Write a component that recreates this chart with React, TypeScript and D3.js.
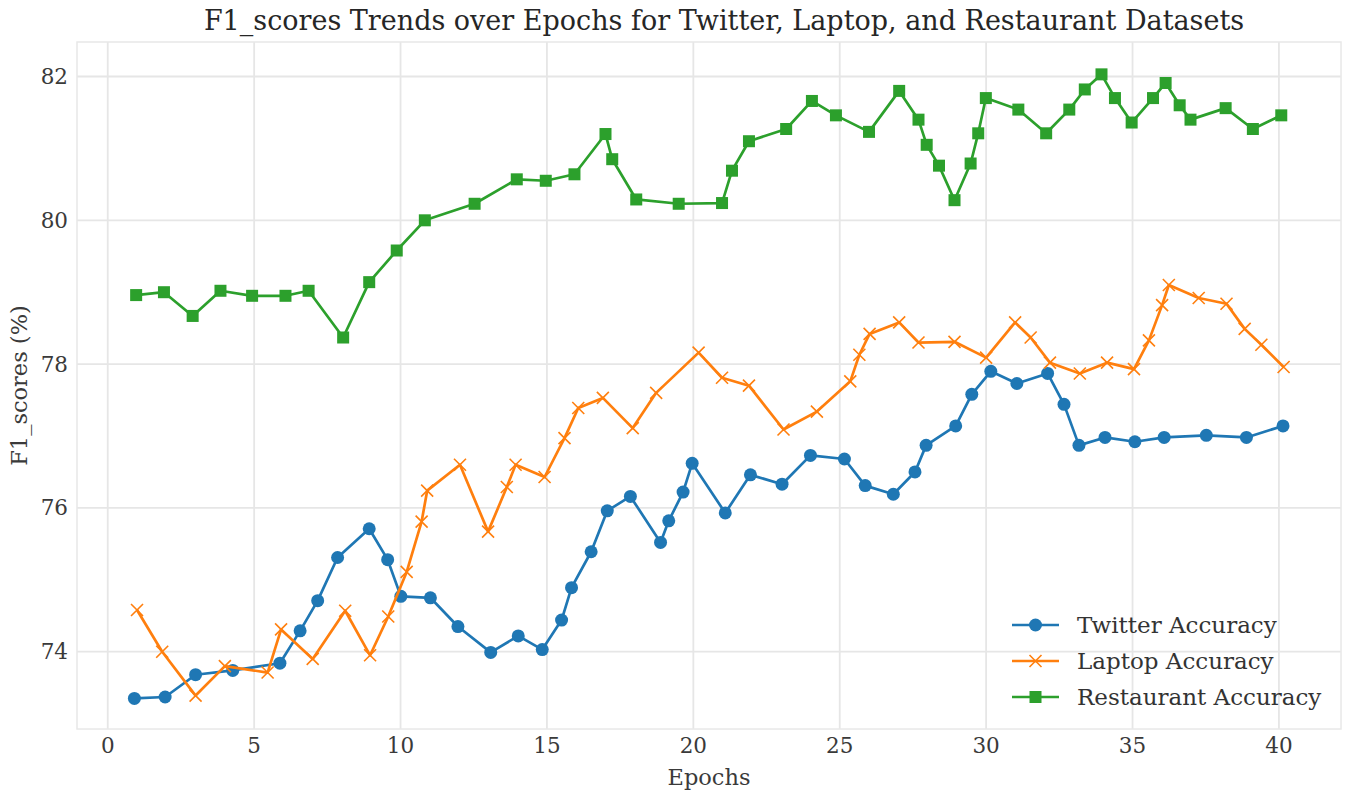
import React from "react";
import * as d3 from "d3";

const twitterEpochs = [0.91, 1.96, 3.0, 4.27, 5.88, 6.57, 7.17, 7.85, 8.93, 9.56, 10.01, 11.02, 11.96, 13.08, 14.02, 14.84, 15.5, 15.84, 16.51, 17.06, 17.85, 18.88, 19.16, 19.65, 19.96, 21.09, 21.95, 23.03, 24.0, 25.16, 25.87, 26.83, 27.57, 27.95, 28.96, 29.51, 30.16, 31.05, 32.1, 32.66, 33.17, 34.06, 35.08, 36.08, 37.52, 38.89, 40.14];
const twitterScores = [73.35, 73.37, 73.68, 73.74, 73.84, 74.29, 74.71, 75.31, 75.71, 75.28, 74.77, 74.75, 74.35, 73.99, 74.22, 74.03, 74.44, 74.89, 75.39, 75.96, 76.16, 75.52, 75.82, 76.22, 76.62, 75.93, 76.46, 76.33, 76.73, 76.68, 76.31, 76.19, 76.5, 76.87, 77.14, 77.58, 77.9, 77.73, 77.87, 77.44, 76.87, 76.98, 76.92, 76.98, 77.01, 76.98, 77.14];

const laptopEpochs = [1.0, 1.86, 3.0, 4.0, 5.46, 5.92, 7.0, 8.11, 8.96, 9.58, 10.21, 10.72, 10.91, 12.03, 12.99, 13.63, 13.93, 14.92, 15.6, 16.07, 16.91, 17.93, 18.73, 20.18, 20.98, 21.9, 23.08, 24.22, 25.36, 25.67, 26.02, 27.03, 27.69, 28.92, 30.0, 30.99, 31.52, 32.18, 33.2, 34.13, 35.05, 35.56, 36.01, 36.24, 37.26, 38.21, 38.83, 39.4, 40.16];
const laptopScores = [74.58, 74.0, 73.39, 73.8, 73.71, 74.31, 73.9, 74.57, 73.95, 74.49, 75.11, 75.81, 76.24, 76.6, 75.67, 76.29, 76.6, 76.43, 76.97, 77.39, 77.53, 77.11, 77.6, 78.16, 77.81, 77.7, 77.09, 77.34, 77.76, 78.13, 78.42, 78.58, 78.3, 78.31, 78.09, 78.58, 78.37, 78.02, 77.87, 78.02, 77.93, 78.33, 78.82, 79.1, 78.92, 78.84, 78.49, 78.27, 77.96];

const restaurantEpochs = [0.97, 1.92, 2.9, 3.85, 4.93, 6.07, 6.86, 8.04, 8.93, 9.87, 10.83, 12.53, 13.97, 14.96, 15.94, 17.0, 17.23, 18.05, 19.5, 20.98, 21.32, 21.9, 23.17, 24.05, 24.87, 26.0, 27.03, 27.69, 27.97, 28.39, 28.92, 29.47, 29.73, 29.99, 31.1, 32.05, 32.84, 33.37, 33.94, 34.4, 34.97, 35.7, 36.13, 36.61, 36.98, 38.18, 39.11, 40.08];
const restaurantScores = [78.96, 79.0, 78.67, 79.02, 78.95, 78.95, 79.02, 78.37, 79.14, 79.58, 80.0, 80.23, 80.57, 80.55, 80.64, 81.2, 80.85, 80.29, 80.23, 80.24, 80.69, 81.1, 81.27, 81.66, 81.46, 81.23, 81.8, 81.4, 81.05, 80.76, 80.28, 80.79, 81.21, 81.7, 81.54, 81.21, 81.54, 81.82, 82.03, 81.7, 81.36, 81.7, 81.91, 81.6, 81.4, 81.56, 81.27, 81.46];

const xTicks = [0, 5, 10, 15, 20, 25, 30, 35, 40];
const yTicks = [74, 76, 78, 80, 82];

const seriesNames = ["Twitter Accuracy", "Laptop Accuracy", "Restaurant Accuracy"];
const seriesColors = ["#1f77b4", "#ff7f0e", "#2ca02c"];
const seriesMarkers = ["circle", "x", "square"];

const W = 1350;
const H = 791;
const FONT = "'DejaVu Serif', serif";

function Marker({ kind, cx, cy, color }: { kind: string; cx: number; cy: number; color: string }) {
  if (kind === "circle") return <circle cx={cx} cy={cy} r={6.5} fill={color} />;
  if (kind === "square") return <rect x={cx - 6} y={cy - 6} width={12} height={12} fill={color} />;
  const s = 6;
  return (
    <path
      d={`M${cx - s},${cy - s}L${cx + s},${cy + s}M${cx - s},${cy + s}L${cx + s},${cy - s}`}
      stroke={color}
      strokeWidth={1.6}
      fill="none"
    />
  );
}

export default function App() {
  const left = 77, right = 1341, top = 42, bottom = 729;
  const x = d3.scaleLinear().domain([-1.05, 42.12]).range([left, right]);
  const y = d3.scaleLinear().domain([72.925, 82.48]).range([bottom, top]);

  const series = [
    { xs: twitterEpochs, ys: twitterScores },
    { xs: laptopEpochs, ys: laptopScores },
    { xs: restaurantEpochs, ys: restaurantScores },
  ];

  const line = d3
    .line<[number, number]>()
    .x((d) => x(d[0]))
    .y((d) => y(d[1]));

  const legendX = 1012;
  const legendY0 = 625;
  const legendDy = 36;

  return (
    <svg
      width={W}
      height={H}
      style={{ position: "absolute", left: 0, top: 0, background: "#fff" }}
      fontFamily={FONT}
    >
      <rect x={0} y={0} width={W} height={H} fill="#fff" />
      {/* grid */}
      {xTicks.map((t) => (
        <line key={"gx" + t} x1={x(t)} x2={x(t)} y1={top} y2={bottom} stroke="#e6e6e6" strokeWidth={1.8} />
      ))}
      {yTicks.map((t) => (
        <line key={"gy" + t} x1={left} x2={right} y1={y(t)} y2={y(t)} stroke="#e6e6e6" strokeWidth={1.8} />
      ))}
      <rect x={left} y={top} width={right - left} height={bottom - top} fill="none" stroke="#e8e8e8" strokeWidth={1.5} />

      {/* tick labels */}
      {xTicks.map((t) => (
        <text key={"tx" + t} x={x(t)} y={bottom + 24} textAnchor="middle" fontSize={21.5} fill="#3a3a3a">
          {t}
        </text>
      ))}
      {yTicks.map((t) => (
        <text key={"ty" + t} x={left - 9} y={y(t) + 7.5} textAnchor="end" fontSize={21.5} fill="#3a3a3a">
          {t}
        </text>
      ))}

      {/* series */}
      {series.map((s, i) => {
        const pts: [number, number][] = s.xs.map((v, j) => [v, s.ys[j]]);
        return (
          <g key={"s" + i}>
            <path d={line(pts) || ""} fill="none" stroke={seriesColors[i]} strokeWidth={2.7} strokeLinejoin="round" />
            {pts.map((p, j) => (
              <Marker key={j} kind={seriesMarkers[i]} cx={x(p[0])} cy={y(p[1])} color={seriesColors[i]} />
            ))}
          </g>
        );
      })}

      {/* legend */}
      {seriesNames.map((n, i) => {
        const ly = legendY0 + i * legendDy;
        return (
          <g key={"l" + i}>
            <line x1={legendX} x2={legendX + 47} y1={ly} y2={ly} stroke={seriesColors[i]} strokeWidth={2.7} />
            <Marker kind={seriesMarkers[i]} cx={legendX + 23.5} cy={ly} color={seriesColors[i]} />
            <text x={1077} y={ly + 8} fontSize={23} fill="#333">
              {n}
            </text>
          </g>
        );
      })}

      {/* title and axis labels */}
      <text x={724} y={30} textAnchor="middle" fontSize={27} fill="#262626">
        F1_scores Trends over Epochs for Twitter, Laptop, and Restaurant Datasets
      </text>
      <text x={709} y={785} textAnchor="middle" fontSize={22.5} fill="#3a3a3a">
        Epochs
      </text>
      <text
        transform={`translate(27, ${(top + bottom) / 2}) rotate(-90)`}
        textAnchor="middle"
        fontSize={22.5}
        fill="#3a3a3a"
      >
        F1_scores (%)
      </text>
    </svg>
  );
}
